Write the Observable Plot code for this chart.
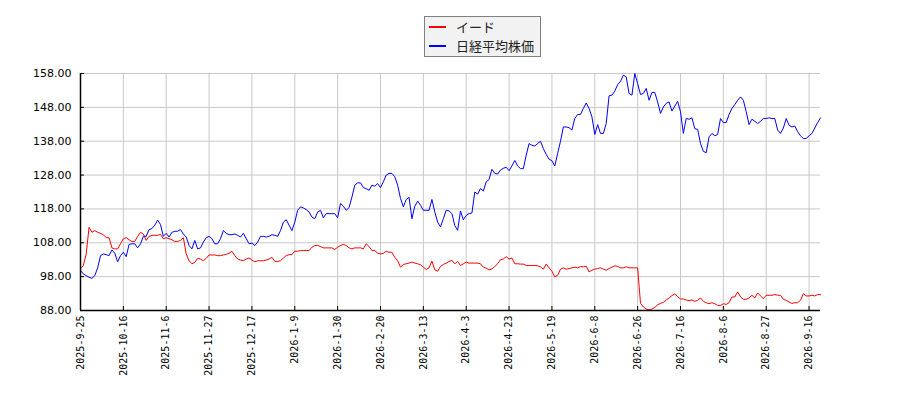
<!DOCTYPE html>
<html>
<head>
<meta charset="utf-8">
<script src="https://cdn.jsdelivr.net/npm/d3@7"></script>
<script src="https://cdn.jsdelivr.net/npm/@observablehq/plot@0.6"></script>
<style>
  body { margin: 0; background: #fff; }
  #wrap { position: relative; width: 900px; height: 400px; }
  #legend { position: absolute; left: 424px; top: 16px; width: 115px; height: 39px; background: #f2f2f2; border: 1px solid #808080; font-family: "Noto Sans CJK JP", sans-serif; font-size: 13px; color: #222; }
  .sw { position: absolute; left: 4px; width: 17px; height: 2px; }
  .lt { position: absolute; left: 31px; line-height: 16px; white-space: nowrap; }
</style>
</head>
<body>
<div id="wrap">
  <div id="legend">
    <div class="sw" style="top:9px;background:#ff0000"></div><div class="lt" style="top:2px">イード</div>
    <div class="sw" style="top:28px;background:#0000ff"></div><div class="lt" style="top:21px">日経平均株価</div>
  </div>
</div>
<script>
const seriesNames = ["イード", "日経平均株価"];
const xLabels = ["2025-9-25","2025-10-16","2025-11-6","2025-11-27","2025-12-17","2026-1-9","2026-1-30","2026-2-20","2026-3-13","2026-4-3","2026-4-23","2026-5-19","2026-6-8","2026-6-26","2026-7-16","2026-8-6","2026-8-27","2026-9-16"];
const yTicks = [88, 98, 108, 118, 128, 138, 148, 158];

const ide = [
100.3,101.3,104.7,112.6,111.1,111.6,111.1,110.8,110.4,109.5,
109.5,106.5,106.2,106.2,107.7,109.2,109.5,108.9,108.4,108.4,
109.9,111.1,110.6,108.7,109.9,110.2,110.2,110.2,110.5,109.2,
109.5,109.2,108.9,108.4,108.4,108.7,109.5,104.7,102.7,101.8,
102.2,103.4,103.2,102.7,103.4,104.4,104.4,104.4,104.2,104.2,
104.4,104.6,104.9,105.5,104.2,103.2,102.9,102.7,103.2,103.5,
102.9,102.4,102.7,102.7,102.7,102.9,103.2,103.7,102.5,102.5,
102.7,103.5,104.2,104.5,104.5,105.5,105.5,105.7,105.7,105.7,
105.7,106.7,107.2,107.2,106.9,106.5,106.5,106.5,106.5,106.0,
106.7,107.2,107.5,107.2,106.5,106.2,106.5,106.5,106.5,106.2,
107.7,106.9,105.7,105.7,104.9,104.7,104.9,105.5,105.2,105.2,
103.7,102.7,100.8,101.6,101.8,102.0,102.3,102.0,101.8,101.5,
100.8,100.1,100.6,102.6,100.0,99.6,101.0,101.6,102.0,102.5,
102.8,101.8,102.5,101.3,101.8,102.3,102.0,102.0,102.0,102.0,
101.8,100.8,100.5,100.0,100.3,101.0,101.8,103.0,103.2,103.9,
103.2,103.5,101.8,101.8,101.7,101.7,101.3,101.3,101.3,101.3,
101.2,100.9,100.2,101.7,100.6,99.6,97.9,98.4,100.2,100.6,
100.2,100.4,100.6,100.8,100.6,101.0,100.9,101.1,99.4,99.9,
100.2,100.4,100.6,100.2,99.9,100.4,100.8,101.2,101.0,100.6,
100.6,100.9,100.6,100.6,100.6,100.6,90.1,89.1,88.4,88.2,
88.4,88.9,89.7,90.1,90.4,91.1,91.7,92.4,92.9,92.1,
91.4,91.4,91.1,90.9,91.1,90.7,91.0,91.7,90.7,90.3,
90.0,90.3,90.0,89.5,89.5,90.0,89.8,90.3,92.0,92.0,
93.5,92.0,91.3,91.3,91.7,92.5,91.7,93.2,92.3,91.5,
92.5,92.5,92.5,92.7,92.5,92.5,91.3,91.0,90.5,90.1,
90.3,90.3,91.0,93.0,92.3,92.3,92.5,92.3,92.7,92.7
];

const nikkei = [
99.8,98.8,98.3,97.8,97.5,98.3,100.6,104.2,104.7,104.5,
104.2,105.9,104.9,102.4,104.2,105.2,103.9,107.5,107.7,107.7,
106.5,107.7,109.9,109.9,111.9,112.2,113.2,114.7,113.4,109.9,
110.8,109.7,111.1,111.4,111.4,111.9,110.6,109.7,107.2,106.2,
108.7,106.2,106.5,108.2,109.5,109.9,109.2,107.7,107.7,109.2,
111.6,110.8,110.4,110.4,110.6,110.2,109.7,110.8,109.2,107.7,
107.9,107.2,108.2,109.9,109.9,109.7,109.9,110.4,110.2,109.9,
111.6,114.1,114.8,113.2,111.6,114.1,117.6,118.6,118.3,117.8,
117.1,115.6,115.1,117.1,117.6,115.4,116.6,116.6,116.6,116.6,
115.4,119.6,118.8,117.6,118.4,121.5,125.0,125.7,125.7,124.3,
124.0,123.5,125.0,124.7,125.5,124.3,126.0,128.0,128.5,128.5,
127.5,125.0,121.1,118.6,120.8,121.4,115.1,118.8,120.3,119.1,
117.6,117.6,117.6,120.8,117.1,114.1,112.7,115.1,117.6,117.4,
116.6,113.1,111.7,117.4,114.8,116.1,116.6,116.8,123.0,122.4,
124.0,123.3,126.0,126.7,129.7,128.5,128.3,129.5,130.0,130.3,
129.3,130.7,132.3,130.7,129.9,129.9,133.9,137.3,136.8,136.6,
137.3,138.0,135.8,134.1,132.7,132.2,130.7,134.4,138.0,142.2,
142.2,142.0,141.3,144.7,145.9,145.9,147.7,149.3,147.7,145.2,
140.0,142.9,140.3,140.3,143.2,151.4,151.6,152.8,154.7,155.7,
157.5,157.0,152.1,151.6,158.0,155.0,151.8,152.1,153.6,150.1,
152.4,152.4,149.6,146.2,148.1,149.2,149.6,146.9,148.4,149.8,
146.7,140.3,144.7,144.5,144.9,141.7,141.5,137.3,135.0,134.6,
139.3,140.3,139.6,140.0,144.7,143.5,143.5,145.9,147.7,148.8,
150.1,151.1,150.1,146.7,142.9,144.5,143.9,143.2,143.9,144.7,
144.7,144.9,144.7,144.7,141.3,140.3,141.9,144.7,142.7,142.2,
142.5,140.8,139.6,138.8,138.8,139.6,140.3,141.9,143.5,144.9
];

const xTicks = xLabels.map((_, k) => k * 15);
const lastIndex = ide.length - 1;

const chart = Plot.plot({
  width: 900,
  height: 400,
  marginLeft: 80,
  marginRight: 80,
  marginTop: 73,
  marginBottom: 90,
  style: { fontFamily: "DejaVu Sans", background: "transparent", color: "#000" },
  x: { domain: [0, lastIndex], label: null },
  y: { domain: [88, 158], label: null },
  marks: [
    Plot.gridX(xTicks, { stroke: "#c8c8c8", strokeOpacity: 1 }),
    Plot.gridY(yTicks, { stroke: "#c8c8c8", strokeOpacity: 1 }),
    Plot.line(ide, { x: (d, i) => i, y: d => d, stroke: "#ff0000", strokeWidth: 1 }),
    Plot.line(nikkei, { x: (d, i) => i, y: d => d, stroke: "#0000ff", strokeWidth: 1 }),
    Plot.ruleX([0], { stroke: "#000", strokeWidth: 1.5 }),
    Plot.ruleY([88], { stroke: "#000", strokeWidth: 1.5 }),
    Plot.tickX(xTicks, { x: d => d, insetTop: 233, stroke: "#000" }),
    Plot.tickY(yTicks, { y: d => d, insetRight: 736, stroke: "#000" }),
    Plot.axisX(xTicks, { tickFormat: d => xLabels[Math.round(d / 15)], tickRotate: -90, tickSize: 0, tickPadding: 5, fontFamily: "DejaVu Sans Mono", fontSize: 10, label: null }),
    Plot.axisY(yTicks, { tickFormat: d => d.toFixed(2), tickSize: 0, tickPadding: 9, fontSize: 11, label: null })
  ]
});
chart.style.position = "absolute";
chart.style.left = "0px";
chart.style.top = "0px";
document.getElementById("wrap").appendChild(chart);
</script>
</body>
</html>
